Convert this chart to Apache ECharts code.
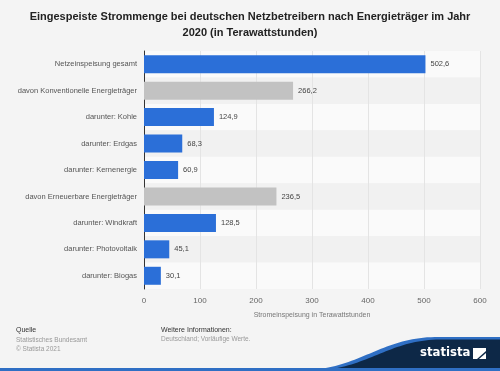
<!DOCTYPE html>
<html><head><meta charset="utf-8">
<script src="https://cdn.jsdelivr.net/npm/echarts@6/dist/echarts.min.js"></script>
<style>html,body{margin:0;padding:0;background:#f4f4f4}#c{width:500px;height:371px}</style>
</head><body><div id="c"></div>
<script>
const categories = ["Netzeinspeisung gesamt","davon Konventionelle Energieträger","darunter: Kohle","darunter: Erdgas","darunter: Kernenergie","davon Erneuerbare Energieträger","darunter: Windkraft","darunter: Photovoltaik","darunter: Biogas"];
const values = [502.6,266.2,124.9,68.3,60.9,236.5,128.5,45.1,30.1];
const isSubtotal = [false,true,false,false,false,true,false,false,false];
const xTicks = [0,100,200,300,400,500,600];

function wave(x0,y0,c1,c2,x3,y3){
  const pts=[];
  for(let i=0;i<=40;i++){const t=i/40,u=1-t;
    pts.push([u*u*u*x0+3*u*u*t*c1[0]+3*u*t*t*c2[0]+t*t*t*x3, u*u*u*y0+3*u*u*t*c1[1]+3*u*t*t*c2[1]+t*t*t*y3]);}
  pts.push([500,y3]);pts.push([500,371]);
  return pts;
}

const chart = echarts.init(document.getElementById('c'), null, {renderer:'canvas'});
const FONT = 'Liberation Sans, Arial, sans-serif';
chart.setOption({
  backgroundColor:'#f4f4f4',
  animation:false,
  title:{text:'Eingespeiste Strommenge bei deutschen Netzbetreibern nach Energieträger im Jahr\n2020 (in Terawattstunden)',left:'center',top:4,
    textStyle:{fontFamily:FONT,fontSize:11,fontWeight:'bold',color:'#222',lineHeight:16}},
  grid:{left:144,right:20,top:51,bottom:82},
  xAxis:{type:'value',min:xTicks[0],max:xTicks[xTicks.length-1],interval:100,
    name:'Stromeinspeisung in Terawattstunden',nameLocation:'middle',nameGap:23,
    nameTextStyle:{fontFamily:FONT,fontSize:7,color:'#777'},
    axisLabel:{fontFamily:FONT,fontSize:8,color:'#666',margin:8},
    axisLine:{show:false},axisTick:{show:false},
    splitLine:{lineStyle:{color:'#e4e4e4',width:1}}},
  yAxis:{type:'category',data:categories,inverse:true,
    axisLabel:{fontFamily:FONT,fontSize:7.5,color:'#555',margin:7},
    axisLine:{show:true,lineStyle:{color:'#333',width:1}},axisTick:{show:false},
    splitArea:{show:true,areaStyle:{color:['#fafafa','#f1f1f1']}}},
  series:[{type:'bar',barWidth:18,
    data:values.map((v,i)=>({value:v,itemStyle:{color:isSubtotal[i]?'#c2c2c2':'#2b6fd8'}})),
    label:{show:true,position:'right',distance:5,fontFamily:FONT,fontSize:7.5,color:'#444',
      formatter:p=>p.value.toFixed(1).replace('.',',')}}],
  graphic:[
    {type:'text',left:16,top:327,style:{text:'Quelle',fontFamily:FONT,fontSize:7,fill:'#333'}},
    {type:'text',left:16,top:336,style:{text:'Statistisches Bundesamt\n© Statista 2021',fontFamily:FONT,fontSize:6.5,fill:'#999',lineHeight:9}},
    {type:'text',left:161,top:327,style:{text:'Weitere Informationen:',fontFamily:FONT,fontSize:7,fill:'#333'}},
    {type:'text',left:161,top:336,style:{text:'Deutschland; Vorläufige Werte.',fontFamily:FONT,fontSize:6.5,fill:'#999'}},
    {type:'polygon',shape:{points:[[300,371]].concat(wave(300,371,[360,369],[380,338],435,337))},style:{fill:'#2f6fc4'}},
    {type:'polygon',shape:{points:[[312,371]].concat(wave(312,371,[368,369],[388,340],440,339.5))},style:{fill:'#0d2847'}},
    {type:'rect',shape:{x:0,y:368,width:500,height:3},style:{fill:'#2f6fc4'}},
    {type:'text',left:420,top:346,style:{text:'statista',fontFamily:'DejaVu Sans Condensed, DejaVu Sans, sans-serif',fontSize:13,fontWeight:'bold',fill:'#fff'}},
    {type:'polygon',shape:{points:[[473,348],[486,348],[486,351],[477,359],[473,359]]},style:{fill:'#fff'}},
    {type:'polygon',shape:{points:[[486,353],[486,359],[479,359]]},style:{fill:'#fff'}}
  ]
});
</script></body></html>
